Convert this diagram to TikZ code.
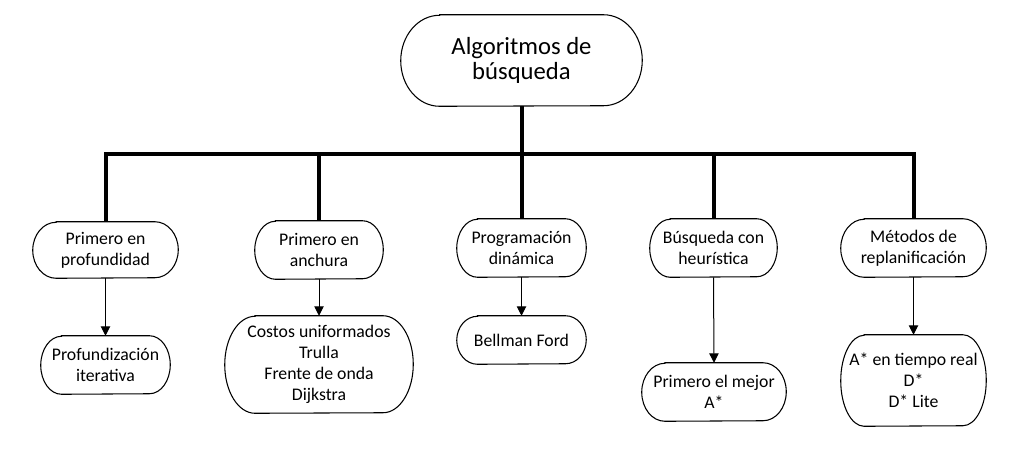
\documentclass[tikz,border=0pt]{standalone}
\usepackage{fontspec}
\setmainfont{Carlito}
\usetikzlibrary{arrows.meta}
\tikzset{
  termtext/.style={inner sep=0pt,align=center,font=\fontsize{13.3}{15.75}\selectfont},
  titletext/.style={inner sep=0pt,align=center,font=\fontsize{18.5}{18.5}\selectfont},
  termline/.style={draw=black,line width=0.8pt},
  trunk/.style={line width=3pt,line join=miter},
  arrowline/.style={line width=0.75pt,-{Triangle[length=7pt,width=7pt]}}
}
\newcommand\termnode[7]{% #1 style, #2 name, #3 x, #4 y, #5 w, #6 h, #7 text
  \pgfmathsetmacro\tw{#5*0.75}\pgfmathsetmacro\th{#6*0.75}%
  \pgfmathsetmacro\trx{0.161*#5*0.75}\pgfmathsetmacro\try{#6*0.75/2}%
  \node[#1,minimum width=\tw pt,minimum height=\th pt] (#2) at (#3,-#4) {#7};
  \draw[termline] ([xshift=\trx pt]#2.north west) -- ([xshift=-\trx pt]#2.north east)
    arc[start angle=90,end angle=-90,x radius=\trx pt,y radius=\try pt]
    -- ([xshift=\trx pt]#2.south west)
    arc[start angle=270,end angle=90,x radius=\trx pt,y radius=\try pt] -- cycle;
}
\begin{document}
\begin{tikzpicture}[x=0.75pt,y=0.75pt]
\useasboundingbox (0,0) rectangle (1024,-451);
\termnode{titletext}{root}{521.5}{60.5}{241}{91}{Algoritmos de\\búsqueda}
\termnode{termtext}{n1}{105.5}{250}{145}{56}{Primero en\\profundidad}
\termnode{termtext}{n2}{319}{250}{128}{58}{Primero en\\anchura}
\termnode{termtext}{n3}{521.5}{248}{129}{58}{Programación\\dinámica}
\termnode{termtext}{n4}{713.5}{248}{127}{58}{Búsqueda con\\heurística}
\termnode{termtext}{n5}{913.5}{248}{145}{58}{Métodos de\\replanificación}
\termnode{termtext}{c1}{105.5}{365}{129}{58}{Profundización\\iterativa}
\termnode{termtext}{c2}{319}{364.5}{188}{97}{Costos uniformados\\Trulla\\Frente de onda\\Dijkstra}
\termnode{termtext}{c3}{521.5}{340}{129}{48}{Bellman Ford}
\termnode{termtext}{c4}{714}{392}{144}{58}{Primero el mejor\\A*}
\termnode{termtext}{c5}{913.5}{380.5}{145}{91}{A* en tiempo real\\D*\\D* Lite}
\coordinate (bar) at (0,-154);
\draw[trunk] (n1.north) -- (n1.north |- bar) -- (n5.north |- bar) -- (n5.north);
\draw[trunk] (root.south) -- (n3.north);
\draw[trunk] (n2.north |- bar) -- (n2.north);
\draw[trunk] (n4.north |- bar) -- (n4.north);
\draw[arrowline] (n1.south) -- (c1.north);
\draw[arrowline] (n2.south) -- (c2.north);
\draw[arrowline] (n3.south) -- (c3.north);
\draw[arrowline] (n4.south) -- (c4.north);
\draw[arrowline] (n5.south) -- (c5.north);
\end{tikzpicture}
\end{document}
